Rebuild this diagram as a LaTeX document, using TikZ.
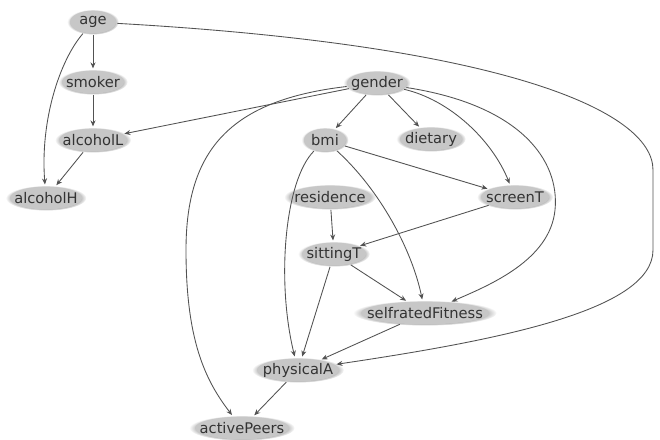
\documentclass[tikz,border=0pt]{standalone}
\usepackage{fontspec}
\setmainfont{DejaVu Sans}
\usetikzlibrary{shapes.geometric,arrows.meta,shadows,fadings}
\begin{document}
\begin{tikzpicture}[x=0.75pt,y=-0.75pt,
  nd/.style={ellipse, fill=black!22, inner sep=0pt, minimum height=17pt,
    minimum width=#1*0.75pt, text=black!80,
    font=\fontsize{11}{13}\selectfont,
    circular glow={fill=black!28, shadow scale=1.12}},
  ed/.style={draw=black!68, line width=0.65pt,
    -{Stealth[length=4.5pt,width=3.8pt]}, shorten >=1.5pt, shorten <=1pt}]
\useasboundingbox (0,0) rectangle (660,439);
\node[nd=46]  (age)      at (93,22)  {\makebox[0pt]{age}};
\node[nd=62]  (smoker)   at (93,82)  {\makebox[0pt]{smoker}};
\node[nd=68]  (alcoholL) at (93,140) {\makebox[0pt]{alcoholL}};
\node[nd=72]  (alcoholH) at (46,198) {\makebox[0pt]{alcoholH}};
\node[nd=60]  (gender)   at (377,83) {\makebox[0pt]{gender}};
\node[nd=42]  (bmi)      at (325,140) {\makebox[0pt]{bmi}};
\node[nd=62]  (dietary)  at (431,139) {\makebox[0pt]{dietary}};
\node[nd=82]  (residence) at (330,197) {\makebox[0pt]{residence}};
\node[nd=68]  (screenT)  at (515,197) {\makebox[0pt]{screenT}};
\node[nd=64]  (sittingT) at (334,254) {\makebox[0pt]{sittingT}};
\node[nd=128] (selfrated) at (425,313) {\makebox[0pt]{selfratedFitness}};
\node[nd=82]  (physicalA) at (298,370) {\makebox[0pt]{physicalA}};
\node[nd=94]  (activePeers) at (242,428) {\makebox[0pt]{activePeers}};

\draw[ed] (age) -- (smoker);
\draw[ed] (smoker) -- (alcoholL);
\draw[ed] (alcoholL) -- (alcoholH);
\draw[ed] (age) .. controls (60,60) and (40,120) .. (alcoholH);
\draw[ed] (age) .. controls (500,45) and (653,110) .. (653,170) -- (653,250)
   .. controls (653,310) and (500,340) .. (physicalA);
\draw[ed] (gender) -- (alcoholL);
\draw[ed] (gender) .. controls (230,100) and (186,150) .. (186,250)
   .. controls (186,340) and (205,380) .. (activePeers);
\draw[ed] (gender) -- (bmi);
\draw[ed] (gender) -- (dietary);
\draw[ed] (gender) .. controls (450,100) and (492,140) .. (screenT);
\draw[ed] (gender) .. controls (520,105) and (560,160) .. (555,210)
   .. controls (550,260) and (490,285) .. (selfrated);
\draw[ed] (bmi) -- (screenT);
\draw[ed] (bmi) .. controls (285,180) and (276,280) .. (physicalA);
\draw[ed] (bmi) .. controls (380,190) and (412,250) .. (selfrated);
\draw[ed] (residence) -- (sittingT);
\draw[ed] (screenT) -- (sittingT);
\draw[ed] (sittingT) -- (selfrated);
\draw[ed] (sittingT) -- (physicalA);
\draw[ed] (selfrated) -- (physicalA);
\draw[ed] (physicalA) -- (activePeers);
\end{tikzpicture}
\end{document}
